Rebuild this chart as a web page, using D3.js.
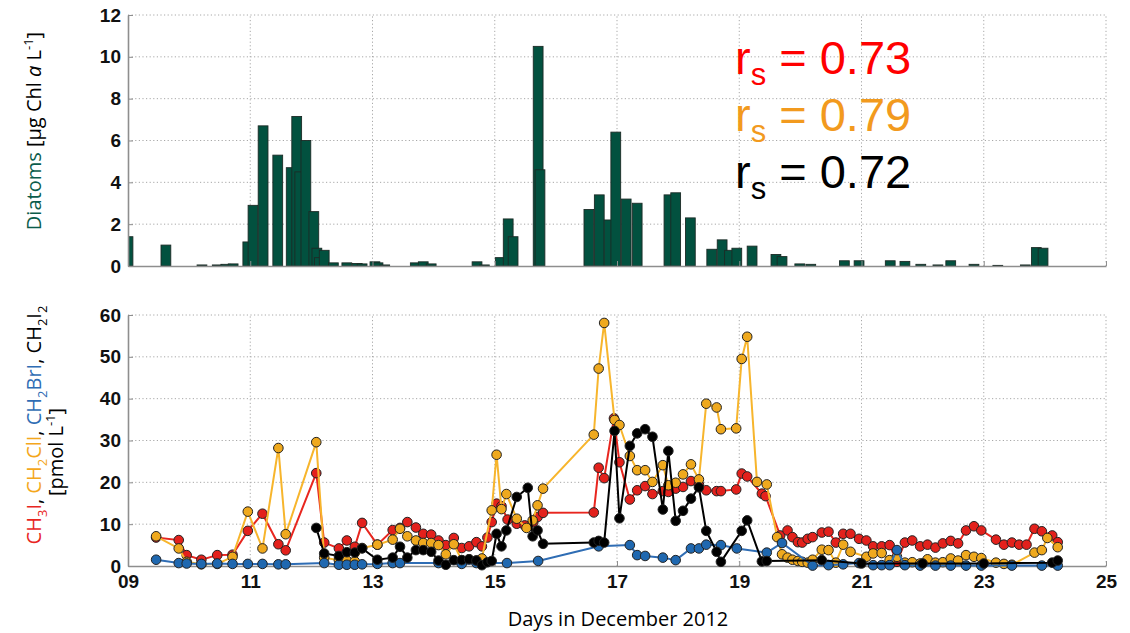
<!DOCTYPE html>
<html>
<head>
<meta charset="utf-8">
<style>
body { margin: 0; background: #fff; }
svg { font-family: "Open Sans", sans-serif; }
.grid line { stroke: #a8a8a8; stroke-width: 1; stroke-dasharray: 1.2,2.4; }
.axis path, .axis line { stroke: #8e8e8e; }
.axis text { font-size: 19px; font-weight: 600; fill: #111; }
</style>
</head>
<body>
<svg width="1130" height="633"></svg>
<script src="https://d3js.org/d3.v7.min.js"></script>
<script>
// diatoms (top panel bars)
var diatomDays = [9.0,9.62,10.21,10.46,10.6,10.72,10.96,11.045,11.21,11.45,11.67,11.76,11.81,11.91,12.04,12.09,12.13,12.21,12.36,12.58,12.75,12.83,13.04,13.09,13.2,13.7,13.83,13.96,14.71,14.83,15.09,15.22,15.30,15.71,15.74,16.54,16.71,16.87,16.98,17.15,17.33,17.85,17.96,18.2,18.55,18.72,18.84,18.96,19.21,19.6,19.7,19.99,20.17,20.72,20.96,21.47,21.71,21.97,22.25,22.46,22.84,23.23,23.68,23.86,23.97];
var diatomVals = [1.4,1.0,0.05,0.05,0.08,0.1,1.15,2.9,6.7,5.3,4.7,7.15,4.5,6.0,2.6,0.85,0.4,0.75,0.15,0.15,0.12,0.1,0.2,0.15,0.05,0.15,0.2,0.1,0.2,0.05,0.4,2.25,1.4,10.5,4.6,2.7,3.4,2.2,6.4,3.2,3.0,3.4,3.5,2.3,0.8,1.25,0.75,0.85,0.95,0.55,0.45,0.1,0.08,0.25,0.25,0.25,0.22,0.08,0.05,0.25,0.08,0.03,0.05,0.88,0.85];

// halocarbons (bottom panel)
var ch3iDays = [9.46,9.83,9.96,10.2,10.46,10.71,10.96,11.2,11.46,11.58,12.08,12.21,12.45,12.58,12.71,12.83,13.08,13.33,13.45,13.57,13.71,13.83,13.96,14.08,14.2,14.33,14.46,14.58,14.7,14.79,14.88,14.95,15.03,15.11,15.21,15.36,15.49,15.63,15.7,15.79,16.62,16.7,16.79,16.95,17.04,17.21,17.33,17.46,17.58,17.75,17.84,17.96,18.08,18.21,18.34,18.46,18.63,18.7,18.95,19.04,19.13,19.37,19.43,19.67,19.79,19.87,19.96,20.03,20.12,20.2,20.35,20.46,20.58,20.7,20.82,20.96,21.08,21.19,21.33,21.46,21.58,21.71,21.83,21.96,22.08,22.21,22.33,22.46,22.58,22.71,22.84,22.96,23.2,23.33,23.46,23.58,23.7,23.83,23.95,24.12,24.21];
var ch3iVals = [6.8,6.2,2.6,1.5,2.6,2.7,8.4,12.5,5.2,3.75,22.2,5.6,4.2,6.1,4.6,10.3,5.1,8.6,9.1,10.5,9.2,7.7,7.5,6.1,5.0,6.7,4.3,4.7,5.7,4.7,6.8,10.5,14.9,14.3,11.1,10.1,9.7,10.5,11.7,12.7,12.8,23.5,21,35.3,24.8,15.9,18.1,19.1,17.2,17.9,17.7,18.5,18.9,20.3,19.5,18.1,17.9,17.9,18.3,22.1,21.4,17.3,16.7,7.3,8.5,6.9,5.7,5.6,6.5,6.9,8.0,8.2,5.6,7.7,7.7,6.5,6.1,4.7,4.7,5.0,1.0,5.6,6.1,4.7,5.1,4.4,5.4,6.0,5.4,8.5,9.5,8.5,6.3,5.1,5.6,5.1,5.1,8.9,8.3,7.3,5.7];

var ch2cliDays = [9.46,9.83,9.96,10.2,10.46,10.71,10.96,11.2,11.46,11.58,12.08,12.21,12.45,12.58,12.71,12.83,13.08,13.33,13.45,13.57,13.71,13.83,13.96,14.08,14.2,14.33,14.46,14.58,14.7,14.79,14.95,15.03,15.11,15.19,15.36,15.52,15.62,15.7,15.79,16.62,16.7,16.79,16.96,17.04,17.21,17.33,17.46,17.58,17.75,17.84,17.96,18.08,18.21,18.34,18.46,18.63,18.7,18.95,19.04,19.13,19.29,19.45,19.62,19.7,19.79,19.87,19.96,20.03,20.12,20.2,20.35,20.46,20.58,20.7,20.82,21.08,21.19,21.33,21.46,21.58,21.71,21.83,21.96,22.08,22.21,22.33,22.46,22.58,22.71,22.84,22.96,23.2,23.33,23.46,23.83,23.95,24.04,24.21];
var ch2cliVals = [7.1,4.2,1.0,0.4,0.5,2.2,13.0,4.2,28.2,7.6,29.6,2.0,1.4,1.3,1.1,4.3,5.1,6.3,8.9,7.1,6.1,5.5,5.5,5.0,2.8,5.2,1.4,1.6,1.3,1.8,13.3,26.6,13.6,17.2,11.3,9.1,10.9,14.5,18.5,31.4,47.2,58.1,34.9,33.7,26.3,22.9,22.9,20.1,24.1,19.3,19.9,21.9,24.3,20.7,38.8,37.9,32.7,32.9,49.5,54.8,20.1,19.5,6.9,2.8,2.0,1.5,1.2,1.0,0.8,1.5,3.9,3.8,0.8,5.1,3.4,2.2,3.0,3.1,1.4,2.2,0.8,0.9,0.6,1.6,0.8,0.9,1.8,1.3,2.6,2.2,1.9,0.8,0.5,0.3,3.2,3.8,6.7,4.5];

var ch2briDays = [9.46,9.83,9.96,10.2,10.46,10.71,10.96,11.2,11.46,11.58,12.21,12.45,12.58,12.71,12.83,13.08,13.33,13.45,14.08,14.46,14.7,15.2,15.71,16.7,17.21,17.33,17.46,17.75,17.96,18.21,18.34,18.46,18.7,18.96,19.45,19.7,20.2,20.46,20.7,20.96,21.19,21.33,21.46,21.58,21.71,21.96,22.21,22.46,22.71,22.96,23.46,23.95,24.21];
var ch2briVals = [1.5,0.7,0.6,0.5,0.6,0.5,0.5,0.5,0.4,0.4,0.7,0.3,0.3,0.3,0.4,0.5,0.7,0.7,0.7,0.5,0.7,0.7,1.2,4.7,5.0,2.6,2.4,2.0,1.4,4.2,4.2,5.1,5.0,4.2,3.2,5.5,0.1,0.2,0.4,0.7,0.2,0.2,0.2,3.8,0.2,0.1,0.1,0.1,0.1,0.1,0.1,0.1,0.1];

var ch2i2Days = [12.08,12.21,12.45,12.58,12.71,12.83,13.08,13.33,13.45,13.57,13.71,13.83,13.96,14.08,14.2,14.33,14.46,14.58,14.7,14.79,14.88,14.95,15.03,15.11,15.19,15.36,15.54,15.62,15.7,15.79,16.62,16.7,16.79,16.96,17.04,17.21,17.33,17.46,17.58,17.75,17.84,17.96,18.08,18.21,18.34,18.46,18.63,18.7,19.04,19.13,19.37,19.45,20.35,21.0,22.0,23.0,24.12,24.21];
var ch2i2Vals = [9.1,3.0,2.4,3.3,3.2,4.2,1.5,2.0,4.6,2.0,3.8,3.8,3.4,1.3,0.3,1.4,1.4,1.6,1.3,0.2,0.9,1.2,7.7,4.7,8.5,16.5,18.7,7.1,8.5,5.3,5.6,6.0,5.6,32.3,11.4,28.7,31.7,32.7,30.9,13.5,27.5,10.8,13.2,16.1,18.8,8.4,3.4,1.0,8.4,10.9,1.1,1.2,1.4,0.6,0.6,0.6,0.8,1.3];

var xTicks = [9,11,13,15,17,19,21,23,25];
var topTicks = [0,2,4,6,8,10,12];
var botTicks = [0,10,20,30,40,50,60];

var svg = d3.select("svg");
var x = d3.scaleLinear().domain([9,25]).range([128,1106]);
var yTop = d3.scaleLinear().domain([0,12]).range([266,15]);
var yBot = d3.scaleLinear().domain([0,60]).range([566,315]);

function grid(y, ticks) {
  var g = svg.append("g").attr("class","grid");
  g.selectAll(".h").data(ticks.filter(function(t){return t>0;})).enter().append("line")
    .attr("x1", x(9)).attr("x2", x(25)).attr("y1", function(d){return y(d);}).attr("y2", function(d){return y(d);});
  g.selectAll(".v").data(xTicks.slice(1)).enter().append("line")
    .attr("x1", function(d){return x(d);}).attr("x2", function(d){return x(d);})
    .attr("y1", y.range()[0]).attr("y2", y.range()[1]);
}
grid(yTop, topTicks);
grid(yBot, botTicks);

svg.append("clipPath").attr("id","clipTop").append("rect")
  .attr("x", x(9)).attr("y", yTop(12)).attr("width", x(25)-x(9)).attr("height", yTop(0)-yTop(12));

// bars
var bw = 0.16;
svg.append("g").attr("clip-path","url(#clipTop)")
  .selectAll("rect").data(diatomDays).enter().append("rect")
  .attr("x", function(d){return x(d - bw/2);})
  .attr("width", x(9+bw) - x(9))
  .attr("y", function(d,i){return yTop(diatomVals[i]);})
  .attr("height", function(d,i){return yTop(0) - yTop(diatomVals[i]);})
  .attr("fill", "#02513f").attr("stroke", "#1c2b26").attr("stroke-width", 0.9);

// axes
function axes(y, ticks, showX) {
  var gy = svg.append("g").attr("class","axis").attr("transform","translate(" + x(9) + ",0)")
    .call(d3.axisLeft(y).tickValues(ticks).tickSizeInner(-5).tickSizeOuter(0).tickPadding(7));
  gy.select(".domain").attr("stroke-width", 1.6);
  var gx = svg.append("g").attr("class","axis").attr("transform","translate(0," + y.range()[0] + ")")
    .call(d3.axisBottom(x).tickValues(xTicks).tickSizeInner(-5).tickSizeOuter(0).tickPadding(9)
      .tickFormat(d3.format("02d")));
  gx.select(".domain").attr("stroke-width", 1.6);
  if (!showX) gx.selectAll("text").remove();
}
axes(yTop, topTicks, false);
axes(yBot, botTicks, true);

// lines and markers
var series = [
  {days: ch3iDays, vals: ch3iVals, line: "#e8261f", fill: "#e3211c"},
  {days: ch2cliDays, vals: ch2cliVals, line: "#f7b52c", fill: "#efa91e"},
  {days: ch2briDays, vals: ch2briVals, line: "#2f6db4", fill: "#1f68b0"},
  {days: ch2i2Days, vals: ch2i2Vals, line: "#000000", fill: "#000000"}
];
var line = d3.line().x(function(d){return x(d[0]);}).y(function(d){return yBot(d[1]);});
series.forEach(function(s) {
  var pts = s.days.map(function(d,i){return [d, s.vals[i]];});
  var g = svg.append("g");
  g.append("path").datum(pts).attr("d", line).attr("fill","none").attr("stroke", s.line).attr("stroke-width", 2);
  g.selectAll("circle").data(pts).enter().append("circle")
    .attr("cx", function(d){return x(d[0]);}).attr("cy", function(d){return yBot(d[1]);})
    .attr("r", 4.8).attr("fill", s.fill).attr("stroke", "#222").attr("stroke-width", 1);
});

// correlation labels
var rs = [["0.73","#ff0000",74],["0.79","#f29a1e",131],["0.72","#000000",188]];
rs.forEach(function(r) {
  var t = svg.append("text").attr("x", 735).attr("y", r[2]).attr("fill", r[1])
    .style("font-family", "'Liberation Sans', Arial, sans-serif").style("font-size", "47px");
  t.append("tspan").text("r");
  t.append("tspan").attr("dy", 11).style("font-size", "31px").text("s");
  t.append("tspan").attr("dy", -11).text(" = " + r[0]);
});

// axis titles
var t1 = svg.append("text").attr("transform","translate(41,131) rotate(-90)")
  .attr("text-anchor","middle").style("font-size","20px");
t1.append("tspan").attr("fill","#0b5c4b").text("Diatoms ");
t1.append("tspan").text("[μg Chl ");
t1.append("tspan").style("font-style","italic").text("a");
t1.append("tspan").text(" L");
t1.append("tspan").attr("dy",-8).style("font-size","13px").text("-1");
t1.append("tspan").attr("dy",8).text("]");

var t2 = svg.append("text").attr("transform","translate(41,425) rotate(-90)")
  .attr("text-anchor","middle").style("font-size","20px");
function chem(parts, color) {
  parts.forEach(function(p) {
    if (p[1]) t2.append("tspan").attr("fill", color).attr("dy", 6).style("font-size","13px").text(p[0]);
    else t2.append("tspan").attr("fill", color).attr("dy", p[2] ? -6 : 0).text(p[0]);
  });
}
chem([["CH"],["3",1],["I",0,1]], "#e8261f");
t2.append("tspan").text(", ");
chem([["CH"],["2",1],["ClI",0,1]], "#f4a71c");
t2.append("tspan").text(", ");
chem([["CH"],["2",1],["BrI",0,1]], "#2f6db4");
t2.append("tspan").text(", ");
chem([["CH"],["2",1],["I",0,1],["2",1]], "#000");

var t3 = svg.append("text").attr("transform","translate(63,452) rotate(-90)")
  .attr("text-anchor","middle").style("font-size","20px");
t3.append("tspan").text("[pmol L");
t3.append("tspan").attr("dy",-8).style("font-size","13px").text("-1");
t3.append("tspan").attr("dy",8).text("]");

svg.append("text").attr("x", 618).attr("y", 626).attr("text-anchor","middle")
  .style("font-size","20px").text("Days in December 2012");
</script>
</body>
</html>
